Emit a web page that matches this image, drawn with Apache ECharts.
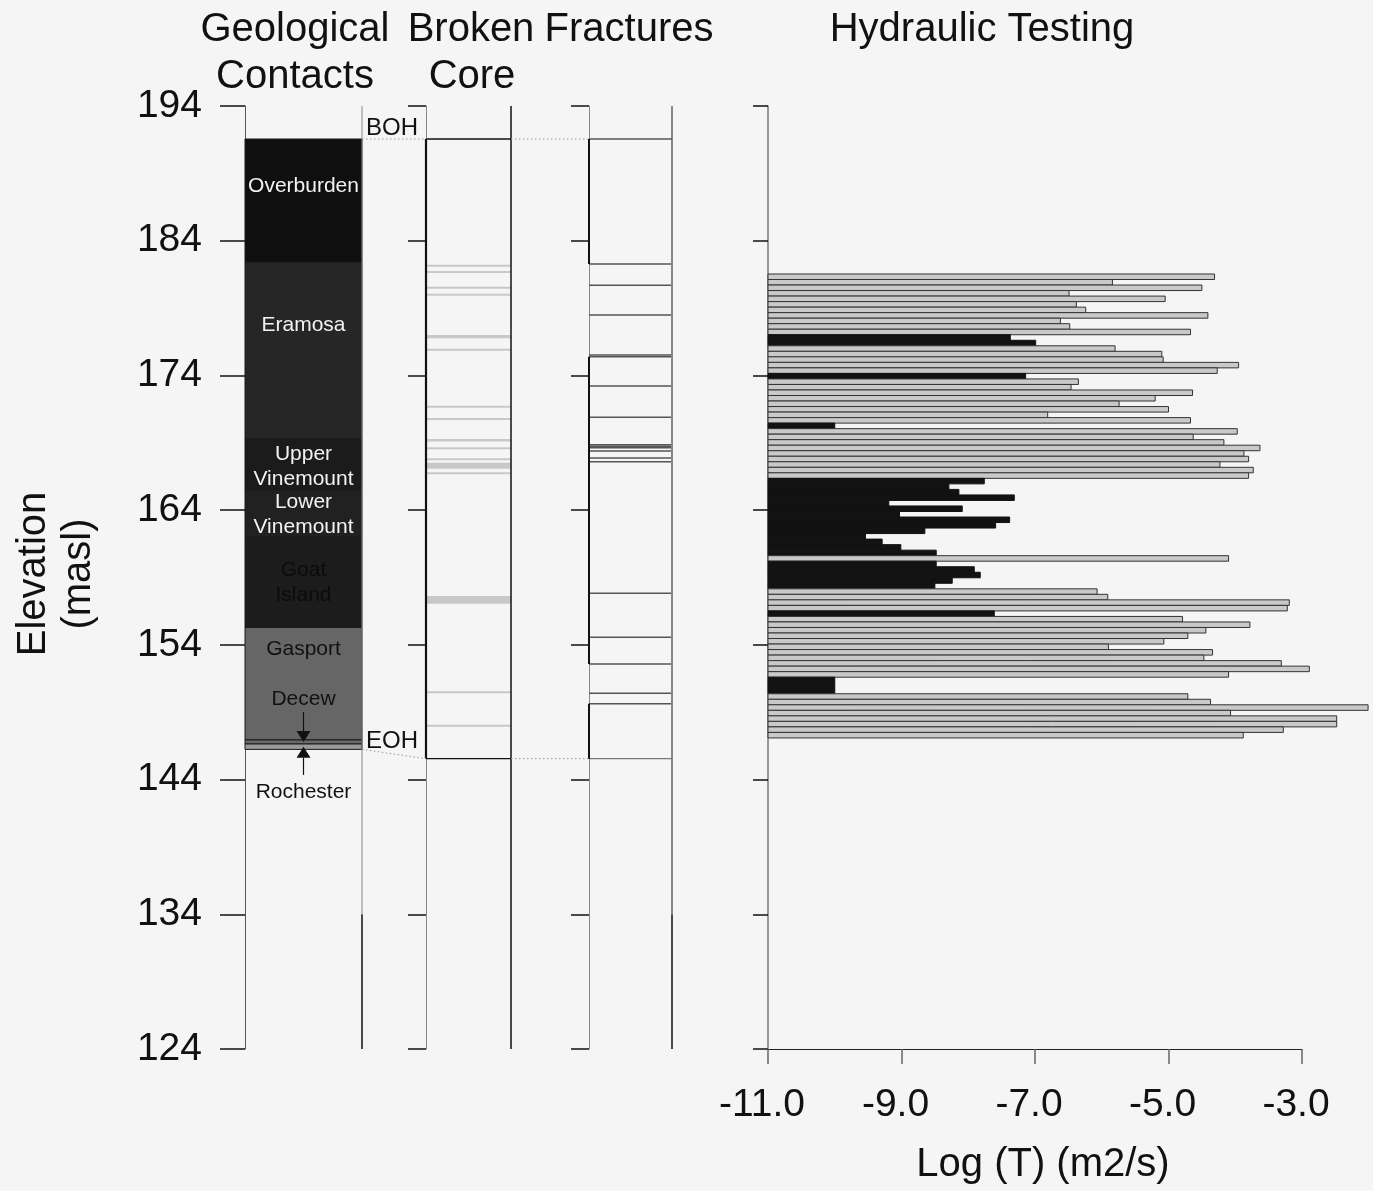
<!DOCTYPE html>
<html>
<head>
<meta charset="utf-8">
<script src="https://cdn.jsdelivr.net/npm/echarts@6/dist/echarts.min.js"></script>
<style>
  html, body { margin: 0; padding: 0; background: #f5f5f5; }
  #chart { width: 1373px; height: 1191px; }
</style>
</head>
<body>
<div id="chart"></div>
<script>
// ---- Elevation scale (masl) ----
const elevMin = 124;
const elevMax = 194;
const elevStep = 10;

// ---- Log(T) scale ----
const logMin = -11;
const logMax = -3;
const logStep = 2;

// ---- Geological contacts ----
const unitNames  = ['Overburden', 'Eramosa', 'Upper\nVinemount', 'Lower\nVinemount', 'Goat\nIsland', 'Gasport', 'Decew', 'Rochester'];
const unitTop    = [191.55, 182.40, 169.28, 165.50, 162.03, 155.29, 146.94, 146.64];
const unitBottom = [182.40, 169.28, 165.50, 162.03, 155.29, 146.94, 146.64, 146.24];
const unitLabelAt = [188.21, 177.89, 167.39, 163.79, 158.78, 153.84, 150.13, 143.23];

// Borehole ends
const boh = 191.55;        // top of hole
const eohGeology = 146.24; // end of hole in the geological log
const eohCore = 145.55;    // end of recovered core / fracture log

// ---- Broken core zones (top / bottom elevation) ----
const brokenTop    = [182.15, 181.68, 180.51, 179.99, 177.00, 175.91, 171.68, 170.77, 169.28, 168.59, 167.77, 167.52, 166.73, 157.63, 150.48, 148.00];
const brokenBottom = [182.15, 181.68, 180.51, 179.99, 176.76, 175.91, 171.68, 170.77, 169.10, 168.59, 167.77, 167.08, 166.73, 157.06, 150.48, 148.00];

// ---- Fractures (elevation) ----
const fractureAt = [182.27, 180.69, 178.49, 175.52, 175.39, 173.22, 170.89, 168.86, 168.74, 168.64, 168.39, 167.87, 167.60, 157.83, 154.56, 152.58, 150.40, 149.63];
// Stretches of the fracture log edge drawn in solid black (from / to)
const fractureEdgeFrom = [191.55, 175.39, 149.63];
const fractureEdgeTo   = [182.27, 152.58, 145.55];

// ---- Hydraulic testing: interval top elevation, log T, flagged tests ----
const testLength = 0.41;
const testTop = [
  181.53, 181.12, 180.71, 180.30, 179.89, 179.48, 179.07, 178.66, 178.25, 177.84,
  177.43, 177.02, 176.61, 176.20, 175.79, 175.38, 174.97, 174.56, 174.15, 173.74,
  173.33, 172.92, 172.51, 172.10, 171.69, 171.28, 170.87, 170.46, 170.05, 169.64,
  169.23, 168.82, 168.41, 168.00, 167.59, 167.18, 166.77, 166.36, 165.95, 165.54,
  165.13, 164.72, 164.31, 163.90, 163.49, 163.08, 162.67, 162.26, 161.85, 161.44,
  161.03, 160.62, 160.21, 159.80, 159.39, 158.98, 158.57, 158.16, 157.75, 157.34,
  156.93, 156.52, 156.11, 155.70, 155.29, 154.88, 154.47, 154.06, 153.65, 153.24,
  152.83, 152.42, 152.01, 151.60, 151.19, 150.78, 150.37, 149.96, 149.55, 149.14,
  148.73, 148.32, 147.91, 147.50
];
const logT = [
  -4.31, -5.84, -4.50, -6.49, -5.05, -6.38, -6.24, -4.41, -6.62, -6.48,
  -4.67, -7.37, -6.99, -5.80, -5.10, -5.08, -3.95, -4.27, -7.14, -6.35,
  -6.46, -4.64, -5.20, -5.74, -5.00, -6.81, -4.67, -10.00, -3.97, -4.63,
  -4.17, -3.63, -3.87, -3.80, -4.23, -3.73, -3.80, -7.76, -8.29, -8.14,
  -7.31, -9.19, -8.09, -9.03, -7.38, -7.59, -8.65, -9.54, -9.29, -9.01,
  -8.48, -4.10, -8.48, -7.91, -7.82, -8.24, -8.50, -6.07, -5.91, -3.19,
  -3.22, -7.61, -4.79, -3.78, -4.44, -4.71, -5.07, -5.90, -4.34, -4.47,
  -3.31, -2.89, -4.10, -10.00, -10.00, -10.00, -4.71, -4.37, -2.01, -4.07,
  -2.48, -2.48, -3.28, -3.88
];
const flagged = [
  0, 0, 0, 0, 0, 0, 0, 0, 0, 0,
  0, 1, 1, 0, 0, 0, 0, 0, 1, 0,
  0, 0, 0, 0, 0, 0, 0, 1, 0, 0,
  0, 0, 0, 0, 0, 0, 0, 1, 1, 1,
  1, 1, 1, 1, 1, 1, 1, 1, 1, 1,
  1, 0, 1, 1, 1, 1, 1, 0, 0, 0,
  0, 1, 0, 0, 0, 0, 0, 0, 0, 0,
  0, 0, 0, 1, 1, 1, 0, 0, 0, 0,
  0, 0, 0, 0
];

// ---- Styling ----
const FONT = '"Liberation Sans", Arial, Helvetica, sans-serif';
const unitFill  = ['#0f0f0f', '#262626', '#1b1b1b', '#212121', '#1c1c1c', '#666666', '#6a6a6a', '#9a9a9a'];
const unitInk   = ['#f2f2f2', '#f2f2f2', '#f2f2f2', '#f2f2f2', '#0b0b0b', '#111111', '#111111', '#111111'];

// Panel layout
const TOP = 106, HEIGHT = 943;
const G = [
  { left: 245, width: 117 },  // geological contacts
  { left: 426, width: 85 },   // broken core
  { left: 589, width: 83 },   // fractures
  { left: 768, width: 534 }   // hydraulic testing
];

const E = e => e - elevMin;   // elevation -> axis value
const Lg = v => v - logMin;   // log T -> axis value

function seg(x1, y1, x2, y2, stroke, lineWidth, dash) {
  return { type: 'line', shape: { x1, y1, x2, y2 },
           style: { stroke, lineWidth, lineDash: dash || null } };
}
function txt(text, x, y, size, fill, lineHeight) {
  const style = {
    text, font: size + 'px ' + FONT, fill,
    align: 'center', verticalAlign: 'middle',
    textAlign: 'center', textVerticalAlign: 'middle'
  };
  if (lineHeight) style.lineHeight = lineHeight;
  return { type: 'text', x, y, style };
}

const yAxisBase = (gi, tickLen, lineColor, extra) => Object.assign({
  type: 'value', gridIndex: gi, min: 0, max: elevMax - elevMin, interval: elevStep,
  axisLine: { show: true, lineStyle: { color: lineColor, width: 1 } },
  axisTick: { show: true, length: tickLen, lineStyle: { color: '#111', width: 1.5 } },
  axisLabel: { show: false },
  splitLine: { show: false }
}, extra || {});

const hiddenX = gi => ({ type: 'value', gridIndex: gi, min: 0, max: 1, show: false });

const chart = echarts.init(document.getElementById('chart'));

const axisName = txt('Elevation\n(masl)', 56, 574, 40, '#111', 45);
axisName.rotation = Math.PI / 2;

chart.setOption({
  backgroundColor: '#f5f5f5',
  animation: false,
  grid: G.map(g => ({ left: g.left, width: g.width, top: TOP, height: HEIGHT })),
  xAxis: [
    hiddenX(0), hiddenX(1), hiddenX(2),
    {
      type: 'value', gridIndex: 3, min: 0, max: logMax - logMin, interval: logStep,
      axisLine: { show: true, lineStyle: { color: '#222', width: 1.2 } },
      axisTick: { show: true, length: 15, lineStyle: { color: '#666', width: 1.5 } },
      axisLabel: { show: true, fontSize: 39, fontFamily: FONT, color: '#111', margin: 37,
                   padding: [0, 12, 0, 0],
                   showMinLabel: true, showMaxLabel: true,
                   formatter: v => (v + logMin).toFixed(1) },
      splitLine: { show: false }
    }
  ],
  yAxis: [
    yAxisBase(0, 25, '#555', {
      axisLabel: { show: true, fontSize: 39, fontFamily: FONT, color: '#111', margin: 43,
                   showMinLabel: true, showMaxLabel: true,
                   formatter: v => String(v + elevMin) }
    }),
    yAxisBase(1, 18, '#888'),
    yAxisBase(2, 18, '#888'),
    yAxisBase(3, 15, '#777', { axisLine: { show: true, lineStyle: { color: '#777', width: 1.5 } } })
  ],
  series: [
    // Geological units with their labels
    {
      type: 'custom', xAxisIndex: 0, yAxisIndex: 0, clip: false,
      data: unitNames.map((n, i) => [0, E(unitTop[i]), E(unitBottom[i]), E(unitLabelAt[i])]),
      renderItem(params, api) {
        const i = params.dataIndex;
        const pT = api.coord([0, api.value(1)]);
        const pB = api.coord([1, api.value(2)]);
        const yLab = api.coord([0, api.value(3)])[1];
        const cx = (pT[0] + pB[0]) / 2;
        const kids = [{
          type: 'rect',
          shape: { x: pT[0], y: pT[1], width: pB[0] - pT[0], height: pB[1] - pT[1] },
          style: { fill: unitFill[i], stroke: '#1a1a1a', lineWidth: 1 }
        }];
        kids.push(txt(unitNames[i], cx, yLab + 2, 21, unitInk[i], 25));
        // Label placed outside a thin unit: point to it with an arrow
        const yMid = (pT[1] + pB[1]) / 2;
        if (yLab < pT[1] || yLab > pB[1]) {
          const dir = yLab < yMid ? 1 : -1;
          const yStart = yLab + dir * 15;
          const yBase = yMid - dir * 11;
          kids.push(seg(cx, yStart, cx, yBase, '#111', 1.2));
          kids.push({ type: 'polygon',
            shape: { points: [[cx - 7, yBase], [cx + 7, yBase], [cx, yMid]] },
            style: { fill: '#111' } });
        }
        return { type: 'group', children: kids };
      }
    },
    // Geological column frame and BOH / EOH marks
    {
      type: 'custom', xAxisIndex: 0, yAxisIndex: 0, clip: false,
      data: [[0, 0]],
      renderItem(params, api) {
        const xR = api.coord([1, 0])[0];
        const yTop = api.coord([0, E(elevMax)])[1];
        const yBot = api.coord([0, 0])[1];
        const yBreak = api.coord([0, E(134)])[1];
        const yBoh = api.coord([0, E(boh)])[1];
        const yEoh = api.coord([0, E(eohGeology)])[1];
        const left = { align: 'left', textAlign: 'left' };
        const bohT = txt('BOH', xR + 4, yBoh - 11, 24, '#111');
        Object.assign(bohT.style, left);
        const eohT = txt('EOH', xR + 4, yEoh - 8, 24, '#111');
        Object.assign(eohT.style, left);
        return { type: 'group', children: [
          seg(xR, yTop, xR, yBreak, '#888', 1),
          seg(xR, yBreak, xR, yBot, '#111', 1.5),
          bohT, eohT
        ] };
      }
    },
    // Broken core zones
    {
      type: 'custom', xAxisIndex: 1, yAxisIndex: 1, clip: false,
      data: brokenTop.map((t, i) => [0, E(t), E(brokenBottom[i])]),
      renderItem(params, api) {
        const pT = api.coord([0, api.value(1)]);
        const pB = api.coord([1, api.value(2)]);
        let y = pT[1], h = pB[1] - pT[1];
        if (h < 2) { y = (pT[1] + pB[1]) / 2 - 1; h = 2; }
        return { type: 'rect', shape: { x: pT[0], y, width: pB[0] - pT[0], height: h },
                 style: { fill: '#c8c8c8' } };
      }
    },
    // Core column frame and connectors between columns
    {
      type: 'custom', xAxisIndex: 1, yAxisIndex: 1, clip: false,
      data: [[0, 0]],
      renderItem(params, api) {
        const xL = api.coord([0, 0])[0], xR = api.coord([1, 0])[0];
        const yTop = api.coord([0, E(elevMax)])[1], yBot = api.coord([0, 0])[1];
        const yT = api.coord([0, E(boh)])[1];
        const yB = api.coord([0, E(eohCore)])[1];
        const yEoh = api.coord([0, E(eohGeology)])[1];
        const geoR = G[0].left + G[0].width, fracL = G[2].left;
        const dot = [1.5, 2.5];
        return { type: 'group', children: [
          seg(xL, yT, xL, yB, '#111', 2.2),
          seg(xR, yTop, xR, yBot, '#111', 1.5),
          seg(xL, yT, xR, yT, '#111', 1.3),
          seg(xL, yB, xR, yB, '#111', 1.3),
          seg(geoR, yT, xL, yT, '#999', 1, dot),
          seg(xR, yT, fracL, yT, '#999', 1, dot),
          seg(geoR, yEoh, xL, yB, '#999', 1, dot),
          seg(xR, yB, fracL, yB, '#999', 1, dot)
        ] };
      }
    },
    // Fractures
    {
      type: 'custom', xAxisIndex: 2, yAxisIndex: 2, clip: false,
      data: fractureAt.map(f => [0, E(f)]),
      renderItem(params, api) {
        const p0 = api.coord([0, api.value(1)]);
        const p1 = api.coord([1, api.value(1)]);
        return seg(p0[0], p0[1], p1[0], p1[1], '#555', 1.5);
      }
    },
    // Fracture column frame
    {
      type: 'custom', xAxisIndex: 2, yAxisIndex: 2, clip: false,
      data: [[0, 0]],
      renderItem(params, api) {
        const xL = api.coord([0, 0])[0], xR = api.coord([1, 0])[0];
        const yTop = api.coord([0, E(elevMax)])[1], yBot = api.coord([0, 0])[1];
        const yBreak = api.coord([0, E(134)])[1];
        const yT = api.coord([0, E(boh)])[1];
        const yB = api.coord([0, E(eohCore)])[1];
        const kids = [
          seg(xR, yTop, xR, yBreak, '#888', 2),
          seg(xR, yBreak, xR, yBot, '#111', 1.5),
          seg(xL, yT, xR, yT, '#555', 1.3),
          seg(xL, yB, xR, yB, '#777', 1.3)
        ];
        fractureEdgeFrom.forEach((f, i) => {
          kids.push(seg(xL, api.coord([0, E(f)])[1], xL, api.coord([0, E(fractureEdgeTo[i])])[1], '#111', 2));
        });
        return { type: 'group', children: kids };
      }
    },
    // Hydraulic testing intervals
    {
      type: 'custom', xAxisIndex: 3, yAxisIndex: 3, clip: false,
      data: testTop.map((t, i) => [E(t), E(t - testLength), Lg(logT[i]), flagged[i]]),
      renderItem(params, api) {
        const p0 = api.coord([0, api.value(0)]);
        const p1 = api.coord([api.value(2), api.value(1)]);
        const dark = api.value(3) === 1;
        return { type: 'rect',
          shape: { x: p0[0], y: p0[1], width: p1[0] - p0[0], height: p1[1] - p0[1] },
          style: { fill: dark ? '#121212' : '#c9c9c9', stroke: dark ? '#121212' : '#333', lineWidth: 1 } };
      }
    }
  ],
  graphic: [
    txt('Geological', 295, 30, 40, '#111'),
    txt('Contacts', 295, 77, 40, '#111'),
    txt('Broken', 471, 30, 40, '#111'),
    txt('Core', 472, 77, 40, '#111'),
    txt('Fractures', 629, 30, 40, '#111'),
    txt('Hydraulic Testing', 982, 30, 40, '#111'),
    axisName,
    txt('Log (T) (m2/s)', 1043, 1165, 40, '#111')
  ]
});
</script>
</body>
</html>
